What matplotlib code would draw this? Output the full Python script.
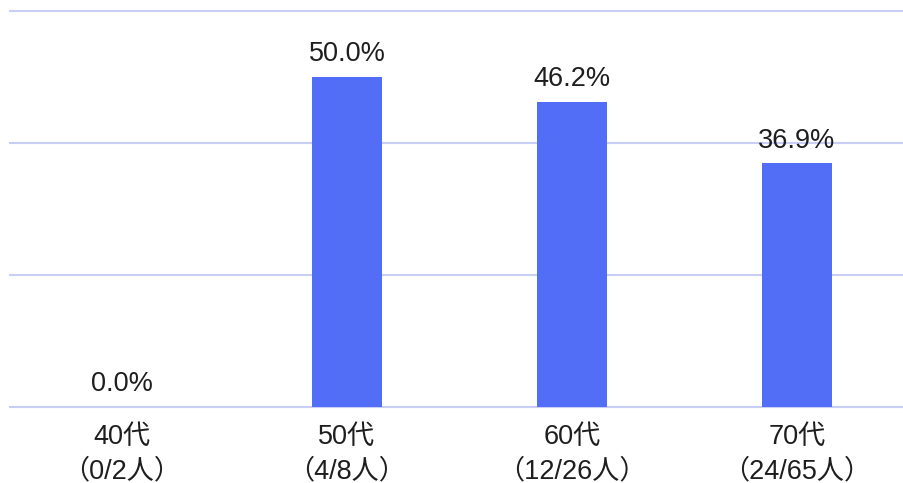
import numpy as np
import matplotlib
matplotlib.use("Agg")
import matplotlib.pyplot as plt

plt.rcParams['font.family'] = ['Liberation Sans', 'Noto Sans CJK JP', 'DejaVu Sans']

# data
groups = ['40代', '50代', '60代', '70代']
counts = ['（0/2人）', '（4/8人）', '（12/26人）', '（24/65人）']
rates = [0.0, 50.0, 46.2, 36.9]

bar_color = '#536ef6'
grid_color = '#c9cef5'

fig = plt.figure(figsize=(9.04, 4.83), dpi=100)
ax = fig.add_axes([9.5 / 904, 76 / 483, 900 / 904, 396 / 483])

x = np.arange(len(groups))
bars = ax.bar(x, rates, width=0.315, color=bar_color, zorder=3)
ax.bar_label(bars, labels=[f'{r:.1f}%' for r in rates], padding=7,
             fontsize=19.5, color='#1e1e1e')

ax.set_xlim(-0.5, len(groups) - 0.5)
ax.set_ylim(0, 60)
ax.set_yticks([0, 20, 40, 60])
ax.yaxis.grid(True, color=grid_color, linewidth=1.5, zorder=0)
for gl in ax.get_ygridlines():
    gl.set_clip_on(False)
ax.tick_params(axis='y', left=False, labelleft=False)
ax.set_xticks(x)
ax.set_xticklabels([f'{g}\n{c}' for g, c in zip(groups, counts)],
                   fontsize=19.5, color='#1e1e1e', linespacing=1.38)
ax.tick_params(axis='x', length=0, pad=12.5)
for s in ax.spines.values():
    s.set_visible(False)

fig.savefig('out.png', dpi=100)
